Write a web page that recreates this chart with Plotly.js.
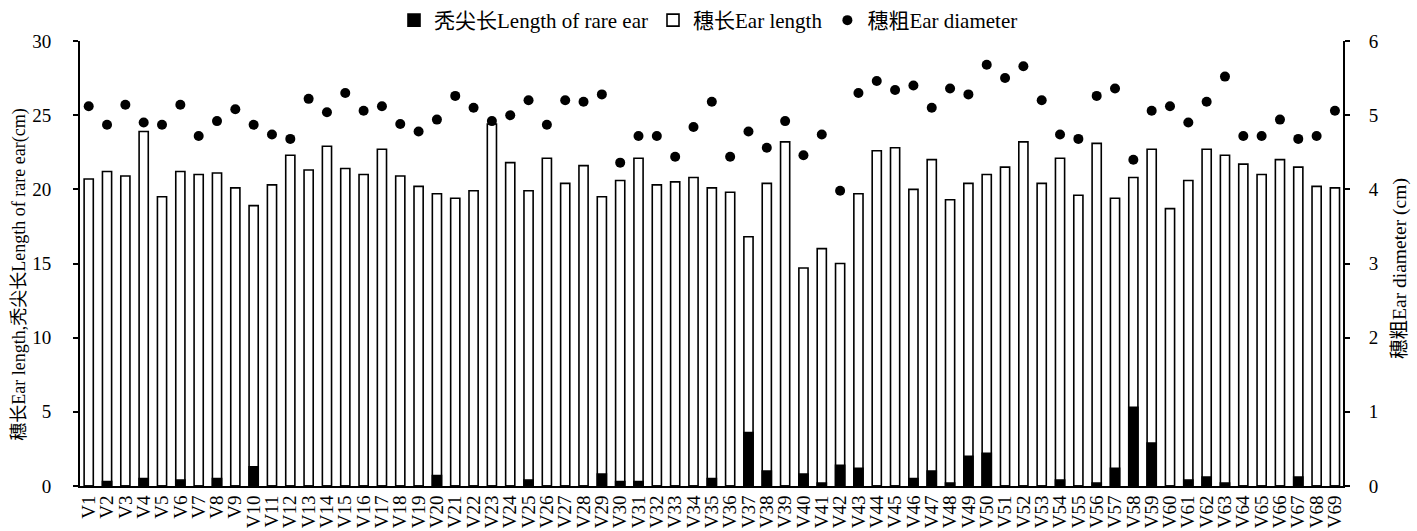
<!DOCTYPE html>
<html>
<head>
<meta charset="utf-8">
<script src="https://cdn.plot.ly/plotly-3.0.1.min.js"></script>
<style>
html,body{margin:0;padding:0;background:#fff;}
#chart{width:1417px;height:531px;}
</style>
</head>
<body>
<div id="chart"></div>
<script>
const categories = ["V1","V2","V3","V4","V5","V6","V7","V8","V9","V10",
"V11","V12","V13","V14","V15","V16","V17","V18","V19","V20",
"V21","V22","V23","V24","V25","V26","V27","V28","V29","V30",
"V31","V32","V33","V34","V35","V36","V37","V38","V39","V40",
"V41","V42","V43","V44","V45","V46","V47","V48","V49","V50",
"V51","V52","V53","V54","V55","V56","V57","V58","V59","V60",
"V61","V62","V63","V64","V65","V66","V67","V68","V69"];

const earLength = [20.7,21.2,20.9,23.9,19.5,21.2,21.0,21.1,20.1,18.9,
20.3,22.3,21.3,22.9,21.4,21.0,22.7,20.9,20.2,19.7,
19.4,19.9,24.4,21.8,19.9,22.1,20.4,21.6,19.5,20.6,
22.1,20.3,20.5,20.8,20.1,19.8,16.8,20.4,23.2,14.7,
16.0,15.0,19.7,22.6,22.8,20.0,22.0,19.3,20.4,21.0,
21.5,23.2,20.4,22.1,19.6,23.1,19.4,20.8,22.7,18.7,
20.6,22.7,22.3,21.7,21.0,22.0,21.5,20.2,20.1];

const rareEarLength = [0,0.3,0,0.5,0,0.4,0,0.5,0,1.3,
0,0,0,0,0,0,0,0,0,0.7,
0,0,0,0,0.4,0,0,0,0.8,0.3,
0.3,0,0,0,0.5,0,3.6,1.0,0,0.8,
0.2,1.4,1.2,0,0,0.5,1.0,0.2,2.0,2.2,
0,0,0,0.4,0,0.2,1.2,5.3,2.9,0,
0.4,0.6,0.2,0,0,0,0.6,0,0];

const earDiameter = [5.12,4.87,5.14,4.90,4.87,5.14,4.72,4.92,5.08,4.87,
4.74,4.68,5.22,5.04,5.30,5.06,5.12,4.88,4.78,4.94,
5.26,5.10,4.92,5.00,5.20,4.87,5.20,5.18,5.28,4.36,
4.72,4.72,4.44,4.84,5.18,4.44,4.78,4.56,4.92,4.46,
4.74,3.98,5.30,5.46,5.34,5.40,5.10,5.36,5.28,5.68,
5.50,5.66,5.20,4.74,4.68,5.26,5.36,4.40,5.06,5.12,
4.90,5.18,5.52,4.72,4.72,4.94,4.68,4.72,5.06];

const seriesNames = ["秃尖长Length of rare ear","穗长Ear length","穗粗Ear diameter"];
const leftTitle = "穗长Ear length,秃尖长Length of rare ear(cm)";
const rightTitle = "穗粗Ear diameter (cm)";

const FONT = "'Liberation Serif', 'Times New Roman', 'Noto Sans CJK SC', serif";

const traces = [
  {
    type: "bar", x: categories, y: earLength, name: seriesNames[1],
    width: 0.5, legendrank: 2,
    marker: {color: "#ffffff", line: {color: "#000000", width: 1.6}},
    hoverinfo: "x+y"
  },
  {
    type: "bar", x: categories, y: rareEarLength, name: seriesNames[0],
    width: 0.5, legendrank: 1,
    marker: {color: "#000000", line: {color: "#000000", width: 1.6}},
    hoverinfo: "x+y"
  },
  {
    type: "scatter", mode: "markers", x: categories, y: earDiameter, name: seriesNames[2],
    yaxis: "y2", legendrank: 3,
    marker: {color: "#000000", size: 10, symbol: "circle"}
  }
];

const layout = {
  width: 1417, height: 531,
  margin: {l: 80, r: 74, t: 37, b: 45},
  paper_bgcolor: "#ffffff", plot_bgcolor: "#ffffff",
  barmode: "overlay",
  font: {family: FONT, color: "#000000", size: 19},
  showlegend: true,
  legend: {
    orientation: "h", xref: "container", yref: "container",
    x: 0.5, xanchor: "center", y: 1.0, yanchor: "top",
    font: {family: FONT, size: 21, color: "#000"},
    itemwidth: 30, bgcolor: "rgba(0,0,0,0)", tracegroupgap: 0
  },
  xaxis: {
    type: "category", range: [-0.475, 68.44],
    tickmode: "linear", dtick: 1, tick0: 0,
    showline: true, linecolor: "#000", linewidth: 2,
    ticks: "", tickangle: -90, showgrid: false, zeroline: false,
    tickfont: {family: FONT, size: 19, color: "#000"},
    fixedrange: true
  },
  yaxis: {
    range: [0, 30], dtick: 5, tick0: 0,
    showline: true, linecolor: "#000", linewidth: 2,
    ticks: "outside", ticklen: 5, tickwidth: 2, tickcolor: "#000",
    ticklabelstandoff: 18,
    showgrid: false, zeroline: false,
    tickfont: {family: FONT, size: 19, color: "#000"}
  },
  yaxis2: {
    overlaying: "y", side: "right", range: [0, 6], dtick: 1, tick0: 0,
    showline: true, linecolor: "#000", linewidth: 2,
    ticks: "outside", ticklen: 5, tickwidth: 2, tickcolor: "#000",
    ticklabelstandoff: 15,
    showgrid: false, zeroline: false,
    tickfont: {family: FONT, size: 19, color: "#000"}
  },
  annotations: [
    {
      text: leftTitle, textangle: -90, showarrow: false,
      xref: "paper", yref: "paper", x: -0.0475, y: 0.475,
      xanchor: "center", yanchor: "middle",
      font: {family: FONT, size: 18, color: "#000"}
    },
    {
      text: rightTitle, textangle: -90, showarrow: false,
      xref: "paper", yref: "paper", x: 1.0451, y: 0.49,
      xanchor: "center", yanchor: "middle",
      font: {family: FONT, size: 19.5, color: "#000"}
    }
  ]
};

Plotly.newPlot("chart", traces, layout, {displayModeBar: false, staticPlot: true});
</script>
</body>
</html>
